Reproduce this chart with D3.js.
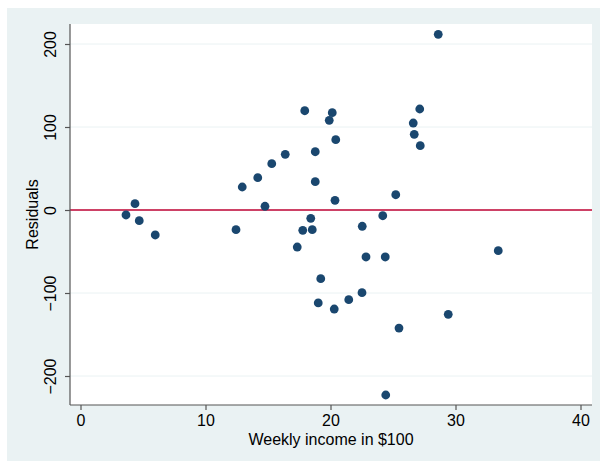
<!DOCTYPE html>
<html>
<head>
<meta charset="utf-8">
<script src="https://cdn.jsdelivr.net/npm/d3@7"></script>
<style>
  body { margin: 0; background: #fff; }
  svg { display: block; font-family: "Liberation Sans", Arial, Helvetica, sans-serif; }
</style>
</head>
<body>
<svg id="chart" width="600" height="462"></svg>
<script>
// residuals vs weekly income
const income = [28.62, 17.94, 20.14, 27.14, 19.90, 26.62, 26.70, 20.42, 27.18, 16.38,
                15.30, 18.78, 14.18, 12.94, 18.78, 4.36, 14.76, 20.36, 25.22, 3.64,
                4.70, 5.98, 12.44, 18.42, 17.78, 18.54, 24.18, 22.54, 17.34, 22.84,
                24.38, 33.42, 19.22, 19.02, 21.46, 22.52, 20.30, 25.48, 29.42, 24.42];
const residuals = [211.7, 119.6, 117.2, 121.7, 108.1, 104.8, 91.2, 84.7, 77.5, 67.1,
                   55.8, 70.2, 38.9, 27.7, 34.1, 7.6, 4.5, 11.7, 18.4, -6.0,
                   -12.9, -30.1, -23.7, -10.0, -24.5, -23.7, -6.9, -19.6, -44.6, -56.6,
                   -56.6, -49.0, -82.8, -112.0, -108.1, -99.6, -119.3, -142.2, -125.7, -222.9];
const xTicks = [0, 10, 20, 30, 40];
const yTicks = [-200, -100, 0, 100, 200];

const svg = d3.select("#chart");

// plot region edges
const plotL = 70, plotR = 592, plotT = 24, plotB = 405;
const fontSize = "16px";

const x = d3.scaleLinear().domain([0, 40]).range([80.5, 580.5]);
const y = d3.scaleLinear().domain([-200, 200]).range([376, 44]);

// outer graph region
svg.append("rect")
    .attr("x", 7).attr("y", 8)
    .attr("width", 593).attr("height", 453)
    .attr("fill", "#eaf2f3");

svg.append("rect")
    .attr("x", plotL).attr("y", plotT)
    .attr("width", plotR - plotL).attr("height", plotB - plotT)
    .attr("fill", "#fff");

// gridlines
svg.append("g")
    .selectAll("line")
    .data(yTicks)
    .enter().append("line")
    .attr("x1", plotL).attr("x2", plotR)
    .attr("y1", d => y(d)).attr("y2", d => y(d))
    .attr("stroke", "#eaf2f3")
    .attr("stroke-width", 1);

// zero line
svg.append("line")
    .attr("x1", plotL).attr("x2", plotR)
    .attr("y1", y(0)).attr("y2", y(0))
    .attr("stroke", "#c10534")
    .attr("stroke-width", 1.3);

// points
svg.append("g")
    .selectAll("circle")
    .data(income.map((d, i) => [d, residuals[i]]))
    .enter().append("circle")
    .attr("cx", d => x(d[0]))
    .attr("cy", d => y(d[1]))
    .attr("r", 4.4)
    .attr("fill", "#1a476f");

// axes
const yAxis = d3.axisLeft(y).tickValues(yTicks).tickSize(5).tickFormat(d => d < 0 ? "\u2212" + Math.abs(d) : d);
const gy = svg.append("g")
    .attr("transform", `translate(${plotL},0)`)
    .call(yAxis);
gy.select(".domain").attr("d", `M0,${plotT}V${plotB}`);
gy.selectAll(".tick text")
    .attr("x", 0).attr("dy", 0)
    .attr("transform", "translate(-14,0) rotate(-90)")
    .attr("text-anchor", "middle")
    .style("font-size", fontSize)
    .attr("fill", "#000");

const xAxis = d3.axisBottom(x).tickValues(xTicks).tickSize(5);
const gx = svg.append("g")
    .attr("transform", `translate(0,${plotB})`)
    .call(xAxis);
gx.select(".domain").attr("d", `M${plotL},0H${plotR}`);
gx.selectAll(".tick text")
    .attr("y", 21).attr("dy", 0)
    .style("font-size", fontSize)
    .attr("fill", "#000");

svg.selectAll(".domain, .tick line")
    .attr("stroke", "#555")
    .attr("stroke-width", 1.2);
svg.selectAll(".tick text").attr("font-family", null);

// axis titles
svg.append("text")
    .attr("x", (plotL + plotR) / 2).attr("y", 444.5)
    .attr("text-anchor", "middle")
    .style("font-size", fontSize)
    .text("Weekly income in $100");

svg.append("text")
    .attr("transform", `translate(38,${(plotT + plotB) / 2}) rotate(-90)`)
    .attr("text-anchor", "middle")
    .style("font-size", fontSize)
    .text("Residuals");
</script>
</body>
</html>
